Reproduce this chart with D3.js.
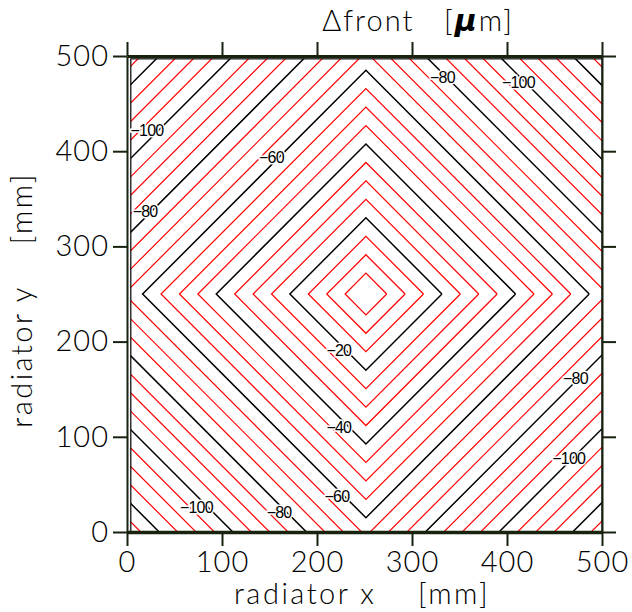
<!DOCTYPE html>
<html>
<head>
<meta charset="utf-8">
<script src="https://cdn.jsdelivr.net/npm/d3@7"></script>
<style>
  body { margin: 0; background: #fff; }
  text { white-space: pre; }
</style>
</head>
<body>
<script>
// contour levels of the front shift, in micrometres
var levels = [-5, -10, -15, -20, -25, -30, -35, -40, -45, -50, -55, -60, -65,
              -70, -75, -80, -85, -90, -95, -100, -105, -110, -115, -120, -125];
// the field is a pyramid: L1 distance from the centre, mm per um
var centre = [251.5, 250];
var mmPerUm = 3.876;
var offsetMm = 2.5;
// area covered by the data grid (mm)
var dataX = [4, 500];
var dataY = [0, 497];
// labels written on the contours: [x mm, y mm, level]
var labelX = [223, 223, 221, 152, 332, 19, 160, 472, 412, 21, 73, 465];
var labelY = [191, 110, 37, 393, 478, 337, 21, 161, 472, 422, 26, 77];
var labelV = [-20, -40, -60, -60, -80, -80, -80, -80, -100, -100, -100, -100];
var tickValues = [0, 100, 200, 300, 400, 500];

var width = 632, height = 612;
var axisColor = "#17230f";

var svg = d3.select("body").append("svg")
    .attr("width", width)
    .attr("height", height);

var x = d3.scaleLinear().domain([0, 500]).range([127, 602]);
var y = d3.scaleLinear().domain([0, 500]).range([532, 56]);

svg.append("clipPath").attr("id", "clip")
  .append("rect")
    .attr("x", x(dataX[0]))
    .attr("y", y(dataY[1]))
    .attr("width", x(dataX[1]) - x(dataX[0]))
    .attr("height", y(dataY[0]) - y(dataY[1]));

var line = d3.line()
    .x(function(d) { return x(d[0]); })
    .y(function(d) { return y(d[1]); });

function diamond(level) {
  var r = offsetMm + mmPerUm * Math.abs(level);
  var cx = centre[0], cy = centre[1];
  return [[cx + r, cy], [cx, cy + r], [cx - r, cy], [cx, cy - r], [cx + r, cy]];
}

var g = svg.append("g").attr("clip-path", "url(#clip)");

g.selectAll(".contour")
    .data(levels)
  .enter().append("path")
    .attr("class", "contour")
    .attr("d", function(d) { return line(diamond(d)); })
    .attr("fill", "none")
    .attr("stroke", function(d) { return d % 20 === 0 ? "#000" : "#ff0000"; })
    .attr("stroke-width", function(d) { return d % 20 === 0 ? 1.5 : 1.2; });

// frame of the data grid
svg.append("rect")
    .attr("x", x(dataX[0]))
    .attr("y", y(dataY[1]))
    .attr("width", x(dataX[1]) - x(dataX[0]))
    .attr("height", y(dataY[0]) - y(dataY[1]))
    .attr("fill", "none")
    .attr("stroke", "#000")
    .attr("stroke-width", 1.2);

// contour labels (white halo breaks the line under the text)
svg.selectAll(".clabel")
    .data(labelV)
  .enter().append("text")
    .attr("class", "clabel")
    .attr("x", function(d, i) { return x(labelX[i]); })
    .attr("y", function(d, i) { return y(labelY[i]); })
    .attr("dy", "0.35em")
    .attr("text-anchor", "middle")
    .attr("font-family", "Liberation Sans, Arial, sans-serif")
    .attr("font-size", 16)
    .attr("letter-spacing", -0.8)
    .attr("fill", "#000")
    .attr("stroke", "#fff")
    .attr("stroke-width", 3)
    .attr("paint-order", "stroke")
    .text(function(d) { return "\u2212" + Math.abs(d); });

// axes on all four sides, ticks pointing outwards
function styleAxis(sel, w) {
  sel.selectAll(".domain").attr("stroke", axisColor).attr("stroke-width", w);
  sel.selectAll(".tick line").attr("stroke", axisColor).attr("stroke-width", 2);
  sel.selectAll("text")
    .attr("font-family", "Lato, Open Sans, sans-serif")
    .attr("font-weight", 300)
    .attr("font-size", 29)
    .attr("letter-spacing", 1)
    .attr("fill", "#000");
}

svg.append("g")
    .attr("transform", "translate(0," + y(0) + ")")
    .call(d3.axisBottom(x).tickValues(tickValues).tickSize(14).tickSizeOuter(0).tickPadding(5))
    .call(styleAxis, 3.5);

svg.append("g")
    .attr("transform", "translate(0," + y(500) + ")")
    .call(d3.axisTop(x).tickValues(tickValues).tickSize(14).tickSizeOuter(0).tickFormat(""))
    .call(styleAxis, 3);

svg.append("g")
    .attr("transform", "translate(" + x(0) + ",0)")
    .call(d3.axisLeft(y).tickValues(tickValues).tickSize(14).tickSizeOuter(0).tickPadding(4))
    .call(styleAxis, 2);

svg.append("g")
    .attr("transform", "translate(" + x(500) + ",0)")
    .call(d3.axisRight(y).tickValues(tickValues).tickSize(14).tickSizeOuter(0).tickFormat(""))
    .call(styleAxis, 2);

// axis titles
var titleFont = "Lato, Open Sans, sans-serif";
svg.append("text")
    .attr("x", 362).attr("y", 604)
    .attr("text-anchor", "middle")
    .attr("font-family", titleFont).attr("font-weight", 300)
    .attr("font-size", 29).attr("letter-spacing", 2.5)
    .text("radiator x    [mm]");

svg.append("text")
    .attr("transform", "translate(32,300) rotate(-90)")
    .attr("text-anchor", "middle")
    .attr("font-family", titleFont).attr("font-weight", 300)
    .attr("font-size", 29).attr("letter-spacing", 2.5)
    .text("radiator y    [mm]");

var title = svg.append("text")
    .attr("x", 418).attr("y", 31)
    .attr("text-anchor", "middle")
    .attr("font-family", titleFont).attr("font-weight", 300)
    .attr("font-size", 29).attr("letter-spacing", 2);
title.append("tspan").text("\u0394front   [");
title.append("tspan").attr("font-style", "italic").attr("font-weight", 700)
    .attr("font-size", 30)
    .attr("font-family", "DejaVu Sans, sans-serif").text("\u03bc");
title.append("tspan").text("m]");
</script>
</body>
</html>
